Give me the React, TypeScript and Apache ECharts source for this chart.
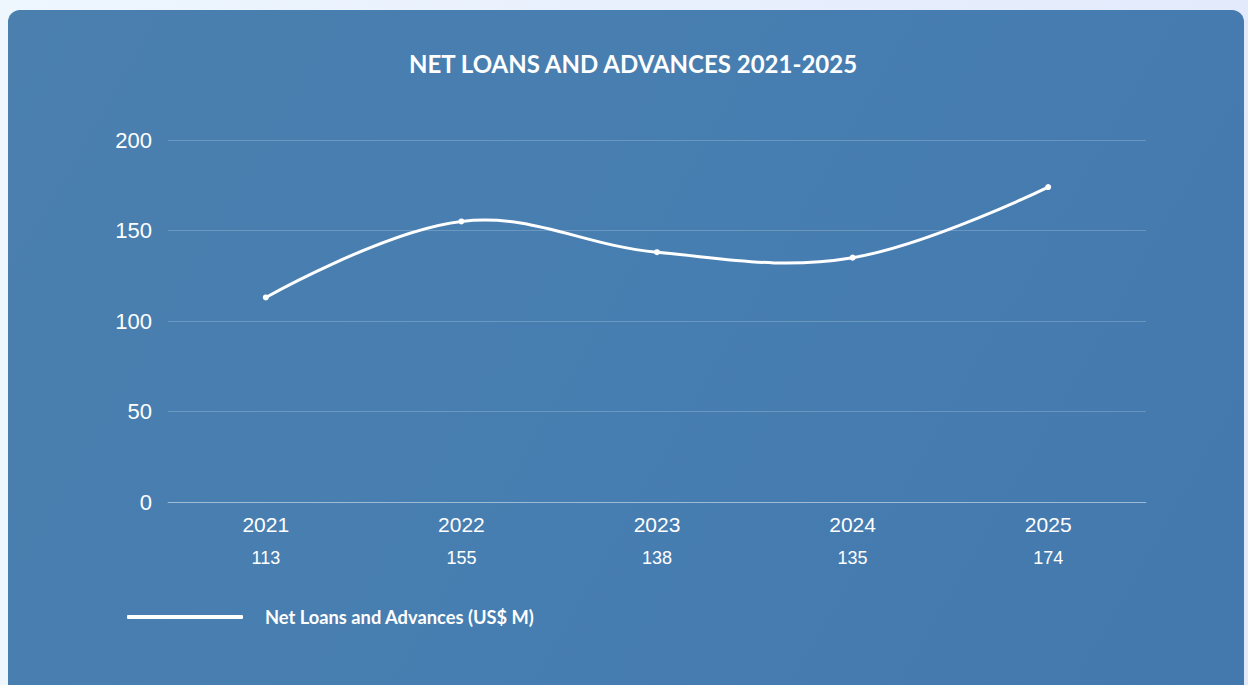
import React, { useEffect, useRef } from "react";
import * as echarts from "echarts";

const years = ["2021", "2022", "2023", "2024", "2025"];
const values = [113, 155, 138, 135, 174];
const yTicks = { min: 0, max: 200, interval: 50 };
const seriesName = "Net Loans and Advances (US$ M)";
const title = "NET LOANS AND ADVANCES 2021-2025";

export default function App() {
  const ref = useRef<HTMLDivElement>(null);
  useEffect(() => {
    if (!ref.current) return;
    const chart = echarts.init(ref.current, null, { renderer: "svg" });
    chart.setOption({
      animation: false,
      backgroundColor: "transparent",
      title: {
        text: title,
        left: 404,
        top: 46,
        textStyle: {
          color: "#ffffff",
          fontFamily: "Lato",
          fontWeight: "bold",
          fontSize: 24,
        },
      },
      grid: { left: 168, right: 102, top: 140, bottom: 183, containLabel: false },
      legend: {
        left: 122,
        top: 603,
        icon: "roundRect",
        itemWidth: 116,
        itemHeight: 4,
        data: [{ name: seriesName, itemStyle: { color: "#ffffff" } }],
        textStyle: {
          color: "#ffffff",
          fontFamily: "Lato",
          fontWeight: "bold",
          fontSize: 18.3,
          padding: [0, 0, 0, 17],
        },
      },
      xAxis: {
        type: "category",
        data: years,
        boundaryGap: true,
        axisLine: { show: true, lineStyle: { color: "rgba(255,255,255,0.35)", width: 1 } },
        axisTick: { show: false },
        axisLabel: {
          margin: 10,
          formatter: (val: string, idx: number) => `{y|${val}}\n{v|${values[idx]}}`,
          rich: {
            y: { color: "#ffffff", fontSize: 21, fontFamily: "Liberation Sans", lineHeight: 24 },
            v: { color: "#ffffff", fontSize: 18, fontFamily: "Liberation Sans", lineHeight: 44 },
          },
        },
      },
      yAxis: {
        type: "value",
        min: yTicks.min,
        max: yTicks.max,
        interval: yTicks.interval,
        axisLine: { show: false },
        axisTick: { show: false },
        axisLabel: {
          margin: 16,
          color: "#ffffff",
          fontSize: 22,
          fontFamily: "Liberation Sans",
        },
        splitLine: { lineStyle: { color: "rgba(255,255,255,0.2)", width: 1 } },
      },
      series: [
        {
          type: "custom",
          name: "curve",
          data: values,
          clip: false,
          silent: true,
          z: 2,
          renderItem: (params: any, api: any) => {
            if (params.dataIndex !== 0) return null;
            const pts = values.map((v, i) => api.coord([i, v]));
            return {
              type: "polyline",
              shape: { points: pts, smooth: 0.38 },
              style: { stroke: "#ffffff", lineWidth: 3, fill: "none" },
            };
          },
        },
        {
          name: seriesName,
          type: "line",
          data: values,
          z: 3,
          symbol: "circle",
          symbolSize: 6,
          showSymbol: true,
          lineStyle: { color: "#ffffff", width: 0, opacity: 0 },
          itemStyle: { color: "#ffffff" },
        },
      ],
    });
    return () => chart.dispose();
  }, []);

  return (
    <div
      style={{
        position: "fixed",
        left: 0,
        top: 0,
        width: 1248,
        height: 685,
        overflow: "hidden",
        background: "linear-gradient(90deg, #eef6fe 0%, #e3eafc 100%)",
      }}
    >
      <div
        style={{
          position: "absolute",
          left: 8,
          top: 10,
          width: 1236,
          height: 720,
          borderRadius: 12,
          background: "linear-gradient(120deg, #4a7fae 0%, #477eb1 50%, #4378ad 100%)",
        }}
      />
      <div ref={ref} style={{ position: "absolute", left: 0, top: 0, width: 1248, height: 685 }} />
    </div>
  );
}
